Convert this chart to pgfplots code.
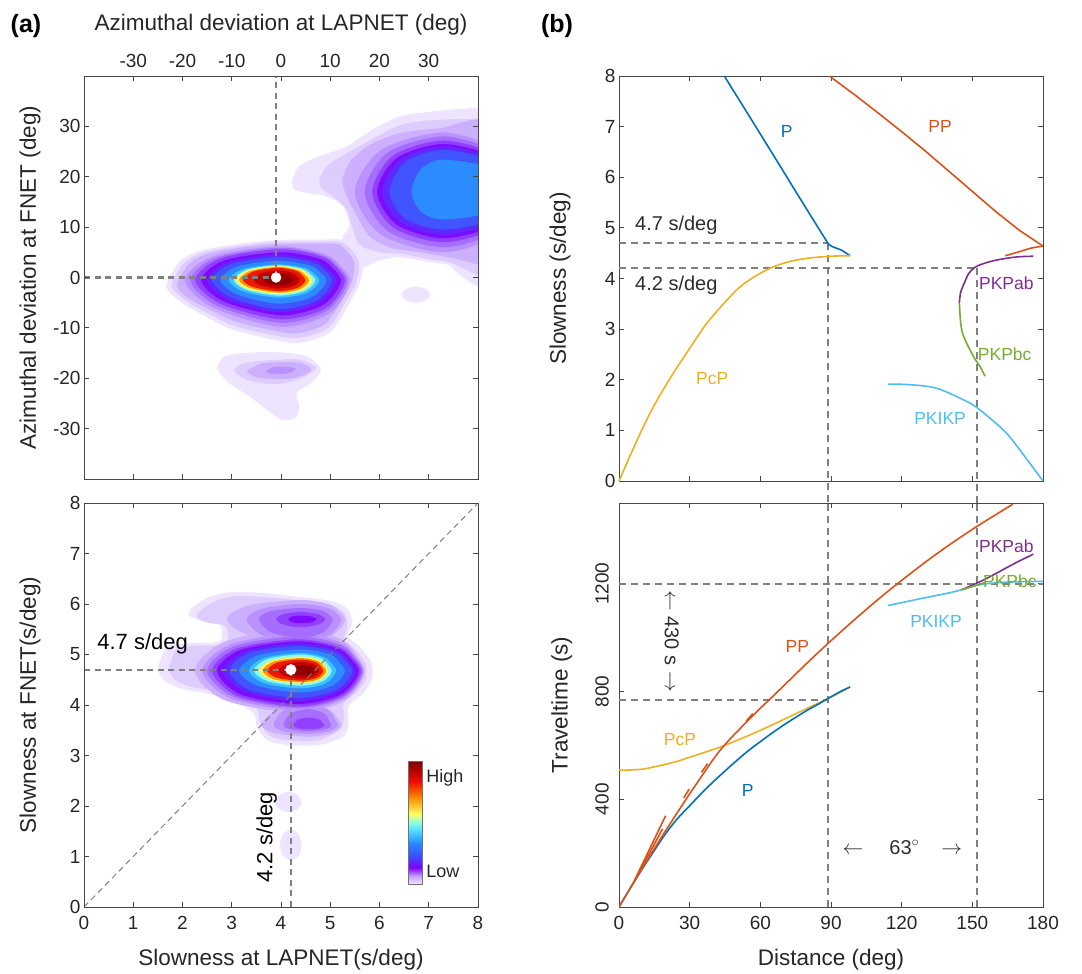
\documentclass[border=0pt]{standalone}
\usepackage{fontspec}
\setmainfont{Liberation Sans}
\usepackage{pgfplots}
\pgfplotsset{compat=1.18}
\usetikzlibrary{calc}

\definecolor{L1}{RGB}{238,228,255}
\definecolor{L2}{RGB}{222,204,255}
\definecolor{L3}{RGB}{204,176,255}
\definecolor{L4}{RGB}{186,146,255}
\definecolor{L5}{RGB}{166,110,255}
\definecolor{L6}{RGB}{146,64,255}
\definecolor{L7}{RGB}{126,10,255}
\definecolor{L8}{RGB}{96,40,255}
\definecolor{L9}{RGB}{64,84,255}
\definecolor{L10}{RGB}{44,140,255}
\definecolor{L11}{RGB}{60,196,255}
\definecolor{L12}{RGB}{140,250,235}
\definecolor{L13}{RGB}{255,245,100}
\definecolor{L14}{RGB}{255,150,0}
\definecolor{L15}{RGB}{235,25,0}
\definecolor{L15b}{RGB}{195,0,0}
\definecolor{L16}{RGB}{145,0,0}
\definecolor{cP}{RGB}{0,114,189}
\definecolor{cPP}{RGB}{217,83,25}
\definecolor{cPcP}{RGB}{237,177,32}
\definecolor{cab}{RGB}{126,47,142}
\definecolor{cbc}{RGB}{119,172,48}
\definecolor{cIK}{RGB}{77,190,238}
\definecolor{dgray}{RGB}{128,128,128}
\definecolor{txt}{RGB}{45,45,45}

\pgfplotsset{
  mystyle/.style={
    scale only axis, anchor=south west,
    axis line style={draw=black!72, line width=0.8pt},
    tick align=inside, major tick length=5pt,
    major tick style={draw=black!72, line width=0.8pt},
    xtick pos=both, ytick pos=both,
    tick label style={font=\fontsize{19}{22}\selectfont, text=black!85},
    label style={font=\fontsize{22.5}{26}\selectfont, text=black!85},
    /pgf/number format/assume math mode=true,
    /pgf/number format/1000 sep={},
  },
  lv/.style={draw=none, fill=#1, smooth, forget plot},
  dl/.style={draw=dgray, line width=2.2pt, dash pattern=on 6pt off 4.5pt, forget plot},
  dlb/.style={draw=dgray, line width=2.1pt, dash pattern=on 7pt off 5pt, forget plot},
  ph/.style={draw=#1, line width=1.6pt, forget plot},
}

\begin{document}
\begin{tikzpicture}
\useasboundingbox (0,0) rectangle (1082pt,974pt);
\node[font=\bfseries\fontsize{25}{28}\selectfont] at (26pt,948pt) {(a)};
\node[font=\bfseries\fontsize{25}{28}\selectfont] at (557pt,948pt) {(b)};

% ---------------- (a) top ----------------
\begin{axis}[mystyle, at={(84pt,495pt)}, width=394pt, height=403pt,
  xmin=-40, xmax=40, ymin=-40, ymax=40,
  xtick={-30,-20,...,30}, ytick={-30,-20,...,30},
  xticklabel pos=upper, xticklabel style={yshift=5pt},
  axis on top,
  xlabel={Azimuthal deviation at LAPNET (deg)},
  xlabel style={at={(axis description cs:0.5,1.127)}, anchor=center},
  ylabel={Azimuthal deviation at FNET (deg)},
  ylabel style={at={(axis description cs:-0.137,0.5)}, anchor=center}]
% L1
\addplot[lv=L1] coordinates {(-23.3,-1.7) (-20.9,2.9) (-16.8,5.2) (-10,6.5) (-1.8,7.4) (7.1,7.5) (13.2,7.3) (16.6,3.6) (16,-1.1) (13.2,-6.3) (9.8,-11) (3.7,-13) (-1.8,-12.3) (-10,-10.3) (-15.4,-7.7) (-20.2,-5) (-23.3,-1.7) (-20.9,2.9)};
\addplot[lv=L1] coordinates {(2.3,19.4) (3.7,22.1) (7.8,24.1) (13.2,26) (18.7,29.4) (24.2,32) (31,33) (40,33.7) (43,33.7) (43,-1.8) (40,-1.8) (36.5,0.3) (34,2.5) (31,2.9) (24.2,4.0) (20.1,3.4) (15.5,2.0) (12.5,7.5) (13.9,10.2) (12.6,14.1) (9.2,16.1) (5.1,16.8) (2.7,17.5) (2.3,19.4) (3.7,22.1)};
\addplot[lv=L1] coordinates {(-13,-17.9) (-11.3,-15.6) (-6,-14.9) (-1.1,-14.8) (5.1,-15.6) (8.1,-18.3) (6.1,-20.9) (3.2,-22.9) (3.7,-25.5) (3,-27.8) (0.3,-28.3) (-2.5,-26.5) (-6.6,-23.5) (-10.6,-20.9) (-13,-17.9) (-11.3,-15.6)};
\addplot[lv=L1] coordinates {(30.3,-3.4) (29.5,-2.3) (27.4,-1.8) (25.3,-2.3) (24.5,-3.4) (25.3,-4.5) (27.4,-5) (29.5,-4.5) (30.3,-3.4) (29.5,-2.3)};
% L2
\addplot[lv=L2] coordinates {(-22.2,-1.6) (-19.9,2.7) (-16,4.9) (-9.6,6.1) (-1.8,7) (6.7,7.1) (12.5,6.9) (15.7,3.4) (15.2,-1.1) (12.5,-5.9) (9.3,-10.2) (3.5,-12) (-1.8,-11.4) (-9.6,-9.6) (-14.7,-7.2) (-19.2,-4.7) (-22.2,-1.6) (-19.9,2.7)};
\addplot[lv=L2] coordinates {(7.8,19.6) (9.5,22.3) (14,25) (19.5,28) (25,30.5) (32,31.3) (40,31.5) (43,31.5) (43,0.3) (40,0.5) (37,1.8) (34,3.1) (31,3.5) (25,4.6) (20,5.0) (16,6.5) (14.5,10) (13.3,13.5) (11,15.8) (8.5,17.5) (7.8,19.6) (9.5,22.3)};
\addplot[lv=L2] coordinates {(-9.6,-18.3) (-7.5,-17) (-4.5,-16.6) (0,-16.3) (3.7,-16.3) (7.1,-17.9) (3.7,-20.2) (-1.8,-21.2) (-7.2,-20.2) (-9.6,-18.3) (-7.5,-17)};
% L3
\addplot[lv=L3] coordinates {(-21.1,-1.6) (-18.9,2.5) (-15.2,4.6) (-9.1,5.8) (-1.7,6.6) (6.3,6.7) (11.8,6.5) (14.8,3.1) (14.3,-1.1) (11.8,-5.5) (8.7,-9.4) (3.2,-11.1) (-1.7,-10.5) (-9.1,-8.8) (-14,-6.6) (-18.3,-4.4) (-21.1,-1.6) (-18.9,2.5)};
\addplot[lv=L3] coordinates {(12.5,19.5) (14,23) (18,26.3) (24,28.6) (32,29.6) (43,29.7) (43,2.5) (40,2.6) (37,3.4) (33,4.2) (28,5.0) (22,6.0) (18,8.2) (15.5,12) (13.2,16.5) (12.5,19.5) (14,23)};
\addplot[lv=L3] coordinates {(-6.9,-18.6) (-4.5,-17.3) (-2.5,-16.9) (3.7,-16.9) (6.1,-18.3) (4,-19.6) (1,-20.1) (-4.5,-19.9) (-6.9,-18.6) (-4.5,-17.3)};
% L4
\addplot[lv=L4] coordinates {(14,-0.5) (9.9,4.2) (0,6.2) (-13.8,4.2) (-19.5,-0.5) (-13.8,-6.0) (0,-9.8) (9.9,-7.1) (14,-0.5) (9.9,4.2)};
\addplot[lv=L4] coordinates {(48,17) (43.6,25.3) (33,28.8) (20.3,25.3) (15,17) (20.3,8.5) (33,5) (43.6,8.5) (48,17) (43.6,25.3)};
\addplot[lv=L4] coordinates {(-3.1,-18.6) (-1.5,-17.8) (1,-17.7) (3,-18.1) (1.5,-19) (-0.4,-19.2) (-2.2,-19.1) (-3.1,-18.6) (-1.5,-17.8)};
% L5
\addplot[lv=L5] coordinates {(13.5,-0.5) (9.5,4.0) (0,5.9) (-13,4.0) (-18.4,-0.5) (-13,-5.6) (0,-9) (9.5,-6.5) (13.5,-0.5) (9.5,4.0)};
\addplot[lv=L5] coordinates {(48,17) (43.6,24.8) (33,28) (21.7,24.8) (17,17) (21.7,9.2) (33,6) (43.6,9.2) (48,17) (43.6,24.8)};
% L6
\addplot[lv=L6] coordinates {(13,-0.5) (9.2,3.8) (0,5.6) (-12.3,3.8) (-17.4,-0.5) (-12.3,-5.2) (0,-8.3) (9.2,-6) (13,-0.5) (9.2,3.8)};
\addplot[lv=L6] coordinates {(48,17) (43.6,24.2) (33,27.2) (22.8,24.2) (18.5,17) (22.8,9.9) (33,7) (43.6,9.9) (48,17) (43.6,24.2)};
% L7
\addplot[lv=L7] coordinates {(12.2,-0.5) (8.6,3.4) (0,5) (-11.5,3.4) (-16.2,-0.5) (-11.5,-4.8) (0,-7.5) (8.6,-5.4) (12.2,-0.5) (8.6,3.4)};
\addplot[lv=L7] coordinates {(48,17) (43.6,23.7) (33,26.5) (23.5,23.7) (19.5,17) (23.5,10.5) (33,7.8) (43.6,10.5) (48,17) (43.6,23.7)};
% L8
\addplot[lv=L8] coordinates {(11.3,-0.5) (7.8,3.0) (-0.5,4.5) (-10.8,3.0) (-15,-0.5) (-10.8,-4.4) (-0.5,-6.9) (7.8,-5.0) (11.3,-0.5) (7.8,3.0)};
\addplot[lv=L8] coordinates {(48,17) (43.6,23.4) (33,26) (24.2,23.4) (20.5,17) (24.2,11) (33,8.5) (43.6,11) (48,17) (43.6,23.4)};
% L9
\addplot[lv=L9] coordinates {(10.4,-0.5) (7.2,2.7) (-0.5,4) (-10,2.7) (-14,-0.5) (-10,-4.0) (-0.5,-6.3) (7.2,-4.6) (10.4,-0.5) (7.2,2.7)};
\addplot[lv=L9] coordinates {(48,17) (43.6,22.9) (33,25.3) (25.2,22.9) (22,17) (25.2,11.7) (33,9.5) (43.6,11.7) (48,17) (43.6,22.9)};
% L10
\addplot[lv=L10] coordinates {(9.2,-0.5) (6.4,2.2) (-0.5,3.3) (-8.8,2.2) (-12.3,-0.5) (-8.8,-3.4) (-0.5,-5.2) (6.4,-3.8) (9.2,-0.5) (6.4,2.2)};
\addplot[lv=L10] coordinates {(48,17) (43.6,21.5) (33,23.4) (28.4,21.5) (26.5,17) (28.4,13.1) (33,11.5) (43.6,13.1) (48,17) (43.6,21.5)};
% L11-L16
\addplot[lv=L11] coordinates {(7.8,-0.5) (5.4,1.7) (-0.5,2.6) (-7.6,1.7) (-10.6,-0.5) (-7.6,-2.8) (-0.5,-4.0) (5.4,-3.0) (7.8,-0.5) (5.4,1.7)};
\addplot[lv=L12] coordinates {(7,-0.5) (4.8,1.55) (-0.5,2.4) (-6.9,1.55) (-9.6,-0.5) (-6.9,-2.5) (-0.5,-3.6) (4.8,-2.7) (7,-0.5) (4.8,1.55)};
\addplot[lv=L13] coordinates {(6.4,-0.5) (4.4,1.5) (-0.5,2.3) (-6.65,1.5) (-9.2,-0.5) (-6.65,-2.3) (-0.5,-3.3) (4.4,-2.5) (6.4,-0.5) (4.4,1.5)};
\addplot[lv=L14] coordinates {(5.7,-0.5) (3.9,1.3) (-0.5,2.1) (-6.2,1.3) (-8.5,-0.5) (-6.2,-2.1) (-0.5,-3.0) (3.9,-2.3) (5.7,-0.5) (3.9,1.3)};
\addplot[lv=L15] coordinates {(5,-0.5) (3.4,1.2) (-0.5,1.9) (-5.6,1.2) (-7.7,-0.5) (-5.6,-1.9) (-0.5,-2.7) (3.4,-2.05) (5,-0.5) (3.4,1.2)};
\addplot[lv=L15b] coordinates {(3.8,-0.5) (2.5,0.85) (-0.5,1.4) (-4,0.85) (-5.5,-0.5) (-4,-1.6) (-0.5,-2.2) (2.5,-1.7) (3.8,-0.5) (2.5,0.85)};
\addplot[lv=L16] coordinates {(2.5,-0.5) (1.6,0.4) (-0.5,0.8) (-2.6,0.4) (-3.5,-0.5) (-2.6,-1.3) (-0.5,-1.6) (1.6,-1.3) (2.5,-0.5) (1.6,0.4)};
% guides
\addplot[dl] coordinates {(-40,0) (-1,0)};
\addplot[dl] coordinates {(-1,0) (-1,40)};
\addplot[only marks, mark=*, mark size=5pt, mark options={draw=white, fill=white}, forget plot] coordinates {(-1,0)};
\end{axis}

% ---------------- (a) bottom ----------------
\begin{axis}[mystyle, at={(84pt,67pt)}, width=394pt, height=404pt,
  xmin=0, xmax=8, ymin=0, ymax=8,
  xtick={0,...,8}, ytick={0,...,8},
  xticklabel style={yshift=-6pt},
  axis on top,
  xlabel={Slowness at LAPNET(s/deg)},
  xlabel style={at={(axis description cs:0.5,-0.131)}, anchor=center},
  ylabel={Slowness at FNET(s/deg)},
  ylabel style={at={(axis description cs:-0.137,0.5)}, anchor=center},
  colormap={cbmap}{rgb255(0cm)=(240,232,255) rgb255(1cm)=(196,156,255) rgb255(2cm)=(128,0,255) rgb255(3.5cm)=(60,80,255) rgb255(5cm)=(40,140,255) rgb255(6.5cm)=(80,220,255) rgb255(7.5cm)=(140,255,225) rgb255(8.5cm)=(255,255,100) rgb255(10.5cm)=(255,140,0) rgb255(12.5cm)=(240,10,0) rgb255(15cm)=(128,0,0)},
  point meta min=0, point meta max=1,
  colorbar,
  colorbar style={at={(parent axis.south west)}, anchor=south west, xshift=316pt, yshift=23pt,
    width=14pt, height=123pt, scale only axis, ytick=\empty, xtick=\empty,
    axis line style={draw=black!55, line width=0.7pt}}]
% L1
\addplot[lv=L1] coordinates {(1.51,4.76) (1.68,5.15) (2.09,5.22) (2.73,5.25) (2.8,5.45) (2.73,5.62) (2.36,5.68) (2.12,5.78) (2.22,5.95) (2.56,6.14) (3.03,6.24) (3.71,6.21) (4.39,6.14) (5.06,6.05) (5.37,5.88) (5.44,5.62) (5.37,5.35) (5.6,5.15) (5.84,4.83) (5.84,4.5) (5.67,4.23) (5.37,3.97) (5.37,3.64) (5.27,3.38) (4.79,3.21) (4.12,3.21) (3.71,3.31) (3.51,3.57) (3.44,3.84) (3.03,4.07) (2.49,4.23) (1.95,4.33) (1.61,4.5) (1.51,4.76) (1.68,5.15)};
\addplot[lv=L1] coordinates {(4.42,2.08) (4.34,2.22) (4.15,2.28) (3.96,2.22) (3.88,2.08) (3.96,1.94) (4.15,1.88) (4.34,1.94) (4.42,2.08) (4.34,2.22)};
\addplot[lv=L1] coordinates {(4.42,1.23) (4.36,1.44) (4.2,1.53) (4.04,1.44) (3.98,1.23) (4.04,1.02) (4.2,0.93) (4.36,1.02) (4.42,1.23) (4.36,1.44)};
% L2
\addplot[lv=L2] coordinates {(1.73,4.75) (1.89,5.11) (2.27,5.17) (2.86,5.2) (2.92,5.41) (2.86,5.57) (2.52,5.63) (2.29,5.73) (2.39,5.89) (2.7,6.07) (3.13,6.16) (3.76,6.13) (4.38,6.07) (5.0,5.98) (5.28,5.82) (5.35,5.57) (5.28,5.29) (5.5,5.11) (5.72,4.82) (5.72,4.52) (5.56,4.28) (5.28,4.04) (5.28,3.75) (5.19,3.51) (4.75,3.3) (4.13,3.3) (3.76,3.4) (3.57,3.68) (3.51,3.93) (3.13,4.13) (2.63,4.28) (2.14,4.37) (1.83,4.52) (1.73,4.75) (1.89,5.11)};
% L3
\addplot[lv=L3] coordinates {(5.3,5.7) (5.04,5.97) (4.4,6.08) (3.34,5.97) (2.9,5.7) (3.34,5.38) (4.4,5.25) (5.04,5.38) (5.3,5.7) (5.04,5.97)};
\addplot[lv=L3] coordinates {(5.22,3.6) (5.02,3.88) (4.55,4.0) (3.88,3.88) (3.6,3.6) (3.88,3.44) (4.55,3.37) (5.02,3.44) (5.22,3.6) (5.02,3.88)};
\addplot[lv=L3] coordinates {(5.7,4.68) (5.3,5.26) (4.35,5.5) (2.87,5.26) (2.25,4.68) (2.87,4.09) (4.35,3.85) (5.3,4.09) (5.7,4.68) (5.3,5.26)};
% L4
\addplot[lv=L4] coordinates {(5.22,5.7) (4.98,5.91) (4.4,6.0) (3.62,5.91) (3.3,5.7) (3.62,5.38) (4.4,5.25) (4.98,5.38) (5.22,5.7) (4.98,5.91)};
\addplot[lv=L4] coordinates {(5.15,3.6) (4.97,3.9) (4.55,4.02) (4.06,3.9) (3.85,3.6) (4.06,3.48) (4.55,3.43) (4.97,3.48) (5.15,3.6) (4.97,3.9)};
\addplot[lv=L4] coordinates {(5.68,4.68) (5.29,5.2) (4.35,5.42) (2.97,5.2) (2.4,4.68) (2.97,4.13) (4.35,3.9) (5.29,4.13) (5.68,4.68) (5.29,5.2)};
% L5
\addplot[lv=L5] coordinates {(5.05,5.7) (4.86,5.86) (4.4,5.92) (3.8,5.86) (3.55,5.7) (3.8,5.44) (4.4,5.33) (4.86,5.44) (5.05,5.7) (4.86,5.86)};
\addplot[lv=L5] coordinates {(5.02,3.6) (4.88,3.83) (4.55,3.92) (4.2,3.83) (4.05,3.6) (4.2,3.52) (4.55,3.48) (4.88,3.52) (5.02,3.6) (4.88,3.83)};
\addplot[lv=L5] coordinates {(5.66,4.68) (5.28,5.16) (4.35,5.36) (3.04,5.16) (2.5,4.68) (3.04,4.16) (4.35,3.94) (5.28,4.16) (5.66,4.68) (5.28,5.16)};
% L6
\addplot[lv=L6] coordinates {(4.9,5.7) (4.75,5.8) (4.4,5.84) (4.05,5.8) (3.9,5.7) (4.05,5.59) (4.4,5.54) (4.75,5.59) (4.9,5.7) (4.75,5.8)};
\addplot[lv=L6] coordinates {(4.88,3.6) (4.78,3.71) (4.55,3.75) (4.34,3.71) (4.25,3.6) (4.34,3.54) (4.55,3.52) (4.78,3.54) (4.88,3.6) (4.78,3.71)};
\addplot[lv=L6] coordinates {(5.63,4.68) (5.25,5.12) (4.35,5.3) (3.11,5.12) (2.6,4.68) (3.11,4.18) (4.35,3.97) (5.25,4.18) (5.63,4.68) (5.25,5.12)};
% L7
\addplot[lv=L7] coordinates {(4.72,5.7) (4.63,5.75) (4.4,5.77) (4.22,5.75) (4.15,5.7) (4.22,5.64) (4.4,5.62) (4.63,5.64) (4.72,5.7) (4.63,5.75)};
\addplot[lv=L7] coordinates {(5.58,4.68) (5.22,5.09) (4.35,5.26) (3.18,5.09) (2.7,4.68) (3.18,4.21) (4.35,4.02) (5.22,4.21) (5.58,4.68) (5.22,5.09)};
% L8-L16
\addplot[lv=L8] coordinates {(5.52,4.68) (5.18,5.06) (4.35,5.22) (3.27,5.06) (2.82,4.68) (3.27,4.26) (4.35,4.08) (5.18,4.26) (5.52,4.68) (5.18,5.06)};
\addplot[lv=L9] coordinates {(5.45,4.68) (5.13,5.03) (4.35,5.17) (3.36,5.03) (2.95,4.68) (3.36,4.3) (4.35,4.14) (5.13,4.3) (5.45,4.68) (5.13,5.03)};
\addplot[lv=L10] coordinates {(5.3,4.68) (5.04,4.98) (4.4,5.1) (3.52,4.98) (3.15,4.68) (3.52,4.38) (4.4,4.25) (5.04,4.38) (5.3,4.68) (5.04,4.98)};
\addplot[lv=L11] coordinates {(5.12,4.68) (4.91,4.93) (4.4,5.03) (3.66,4.93) (3.35,4.68) (3.66,4.43) (4.4,4.33) (4.91,4.43) (5.12,4.68) (4.91,4.93)};
\addplot[lv=L12] coordinates {(5.03,4.68) (4.85,4.91) (4.4,5.0) (3.73,4.91) (3.45,4.68) (3.73,4.47) (4.4,4.38) (4.85,4.47) (5.03,4.68) (4.85,4.91)};
\addplot[lv=L13] coordinates {(4.96,4.68) (4.8,4.88) (4.4,4.96) (3.8,4.88) (3.55,4.68) (3.8,4.5) (4.4,4.42) (4.8,4.5) (4.96,4.68) (4.8,4.88)};
\addplot[lv=L14] coordinates {(4.92,4.68) (4.77,4.86) (4.4,4.93) (3.85,4.86) (3.63,4.68) (3.85,4.51) (4.4,4.45) (4.77,4.51) (4.92,4.68) (4.77,4.86)};
\addplot[lv=L15] coordinates {(4.86,4.68) (4.73,4.84) (4.4,4.9) (3.92,4.84) (3.72,4.68) (3.92,4.54) (4.4,4.48) (4.73,4.54) (4.86,4.68) (4.73,4.84)};
\addplot[lv=L15b] coordinates {(4.78,4.68) (4.67,4.8) (4.42,4.85) (4.09,4.8) (3.95,4.68) (4.09,4.57) (4.42,4.52) (4.67,4.57) (4.78,4.68) (4.67,4.8)};
\addplot[lv=L16] coordinates {(4.7,4.68) (4.62,4.76) (4.42,4.79) (4.22,4.76) (4.15,4.68) (4.22,4.6) (4.42,4.58) (4.62,4.6) (4.7,4.68) (4.62,4.76)};
% guides
\addplot[draw=dgray, line width=1pt, dash pattern=on 6pt off 4pt, forget plot] coordinates {(0,0) (8,8)};
\addplot[dl] coordinates {(0,4.7) (4.2,4.7)};
\addplot[dl] coordinates {(4.2,0) (4.2,4.7)};
\addplot[only marks, mark=*, mark size=5.3pt, mark options={draw=white, fill=white}, forget plot] coordinates {(4.2,4.7)};
\node[font=\fontsize{22}{25}\selectfont, text=black] at (axis cs:1.19,5.22) {4.7 s/deg};
\node[font=\fontsize{22}{25}\selectfont, text=black, rotate=90] at (axis cs:3.71,1.38) {4.2 s/deg};
\node[font=\fontsize{18}{21}\selectfont, text=black!85, anchor=west] at (axis description cs:0.86,0.319) {High};
\node[font=\fontsize{18}{21}\selectfont, text=black!85, anchor=west] at (axis description cs:0.86,0.087) {Low};
\end{axis}

% ---------------- (b) top ----------------
\begin{axis}[mystyle, at={(619pt,493pt)}, width=424pt, height=405pt,
  xmin=0, xmax=180, ymin=0, ymax=8, clip=false,
  xtick={0,30,...,180}, xticklabels={}, ytick={0,...,8},
  ylabel={Slowness (s/deg)},
  ylabel style={at={(axis description cs:-0.139,0.5)}, anchor=center}]
\addplot[dlb] coordinates {(0,4.7) (88.9,4.7)};
\addplot[dlb] coordinates {(0,4.2) (151.8,4.2)};
\addplot[dlb] coordinates {(88.9,4.7) (88.9,-0.44)};
\addplot[dlb] coordinates {(151.8,4.2) (151.8,-0.44)};
\addplot[ph=cP] coordinates {(44.7,8) (55,7.23) (65.5,6.44) (75,5.72) (85,4.97) (88.9,4.68) (90.5,4.63) (94.5,4.56) (98.1,4.45)};
\addplot[ph=cPP] coordinates {(89.3,8) (100,7.63) (110,7.27) (120,6.9) (130,6.52) (140,6.12) (150,5.72) (160,5.32) (170,4.95) (180,4.64)};
\addplot[ph=cPP, smooth] coordinates {(164,4.45) (170,4.53) (175,4.6) (180,4.64)};
\addplot[ph=cPcP, smooth] coordinates {(0,0) (5,0.53) (10,1.04) (15,1.5) (20,1.9) (25,2.27) (30,2.62) (37,3.1) (44,3.48) (51,3.82) (58,4.05) (65,4.22) (72,4.33) (80,4.4) (90,4.44) (98.1,4.45)};
\addplot[ph=cab, smooth] coordinates {(175.9,4.44) (170,4.43) (164.6,4.4) (158,4.34) (151.8,4.24) (148.5,4.1) (146.5,3.9) (145,3.72) (144.5,3.52)};
\addplot[ph=cbc, smooth] coordinates {(144.5,3.52) (144.9,3.2) (145.6,2.96) (147,2.78) (149,2.59) (151,2.42) (153.3,2.26) (155.4,2.07)};
\addplot[ph=cIK, smooth] coordinates {(114.1,1.91) (120,1.91) (129.2,1.88) (135,1.83) (140.5,1.73) (145,1.63) (150.4,1.5) (157,1.26) (164.6,0.94) (172,0.5) (180,0)};
\node[font=\fontsize{17.5}{20}\selectfont, text=cP] at (axis cs:71.2,6.9) {P};
\node[font=\fontsize{17.5}{20}\selectfont, text=cPP] at (axis cs:136.3,7.0) {PP};
\node[font=\fontsize{17.5}{20}\selectfont, text=cPcP] at (axis cs:39.6,2.03) {PcP};
\node[font=\fontsize{17.5}{20}\selectfont, text=cab, anchor=west, inner sep=0pt] at (axis cs:152.8,3.9) {PKPab};
\node[font=\fontsize{17.5}{20}\selectfont, text=cbc, anchor=west, inner sep=0pt] at (axis cs:152.3,2.51) {PKPbc};
\node[font=\fontsize{17.5}{20}\selectfont, text=cIK] at (axis cs:136.3,1.24) {PKIKP};
\node[font=\fontsize{20}{23}\selectfont, text=txt, anchor=west, inner sep=0pt] at (axis cs:6.8,5.06) {4.7 s/deg};
\node[font=\fontsize{20}{23}\selectfont, text=txt, anchor=west, inner sep=0pt] at (axis cs:6.8,3.87) {4.2 s/deg};
\end{axis}

% ---------------- (b) bottom ----------------
\begin{axis}[mystyle, at={(619pt,67pt)}, width=424pt, height=404pt,
  xmin=0, xmax=180, ymin=0, ymax=1500,
  xtick={0,30,...,180}, ytick={0,400,800,1200},
  xticklabel style={yshift=-6pt},
  yticklabel style={rotate=90, anchor=south, inner ysep=10pt},
  xlabel={Distance (deg)},
  xlabel style={at={(axis description cs:0.5,-0.131)}, anchor=center},
  ylabel={Traveltime (s)},
  ylabel style={at={(axis description cs:-0.135,0.5)}, anchor=center}]
\addplot[dlb] coordinates {(0,1200) (180,1200)};
\addplot[dlb] coordinates {(0,770) (88.9,770)};
\addplot[dlb] coordinates {(88.9,0) (88.9,1500)};
\addplot[dlb] coordinates {(151.8,0) (151.8,1500)};
\addplot[ph=cPcP, smooth] coordinates {(0,508) (10,512) (23.1,537) (30,556) (37,576) (44.3,598) (51,622) (58,648) (65.5,678) (72,705) (80,738) (88.9,775) (94,797) (98.1,817)};
\addplot[ph=cP, smooth] coordinates {(0,0) (5,73) (10,143) (15,210) (20,275) (25,330) (30,376) (35,422) (40,465) (45,505) (50,544) (55,581) (60,614) (65,646) (70,676) (75,704) (80,731) (85,755) (88.9,775) (94,800) (98.1,817)};
\addplot[ph=cPP, smooth] coordinates {(0,0) (10,146) (20,286) (30,420) (40,548) (44.3,596) (50,650) (60,738) (64.1,772) (70,822) (80,907) (88.9,980) (100,1067) (110,1142) (118.6,1203) (130,1280) (140,1343) (150,1402) (160,1457) (167.1,1495)};
\addplot[ph=cPP] coordinates {(6,88) (19.8,339)};
\addplot[ph=cPP] coordinates {(8,120) (18.5,290)};
\addplot[ph=cPP] coordinates {(27.5,405) (29.8,438)};
\addplot[ph=cPP] coordinates {(35,500) (37.6,532)};
\addplot[ph=cPP] coordinates {(54,690) (56.8,718)};
\addplot[ph=cIK, smooth] coordinates {(114.1,1119) (120,1130) (129.2,1147) (140,1166) (145.5,1178) (151.8,1194) (158,1202) (164.6,1206) (172,1208) (180,1209)};
\addplot[ph=cab] coordinates {(145.5,1178) (150,1195) (155,1215) (160,1238) (165,1262) (170,1285) (175.9,1310)};
\addplot[ph=cbc] coordinates {(145.5,1178) (150,1190) (155.4,1205)};
\node[font=\fontsize{17.5}{20}\selectfont, text=cab, anchor=west, inner sep=0pt] at (axis cs:152.8,1338) {PKPab};
\node[font=\fontsize{17.5}{20}\selectfont, text=cbc, anchor=west, inner sep=0pt] at (axis cs:154.5,1209) {PKPbc};
\node[font=\fontsize{17.5}{20}\selectfont, text=cIK] at (axis cs:134.6,1061) {PKIKP};
\node[font=\fontsize{17.5}{20}\selectfont, text=cPP] at (axis cs:75.7,968) {PP};
\node[font=\fontsize{17.5}{20}\selectfont, text=cPcP] at (axis cs:25.9,623) {PcP};
\node[font=\fontsize{17.5}{20}\selectfont, text=cP] at (axis cs:54.6,432) {P};
\node[font=\fontsize{20}{23}\selectfont, text=txt, rotate=-90] at (axis cs:22.4,987) {$\leftarrow$\ 430 s\ $\rightarrow$};
\node[font=\fontsize{20}{23}\selectfont, text=txt] at (axis cs:120.3,222) {$\leftarrow$\hspace{26pt}63$^{\circ}$\hspace{22pt}$\rightarrow$};
\end{axis}
\end{tikzpicture}
\end{document}
